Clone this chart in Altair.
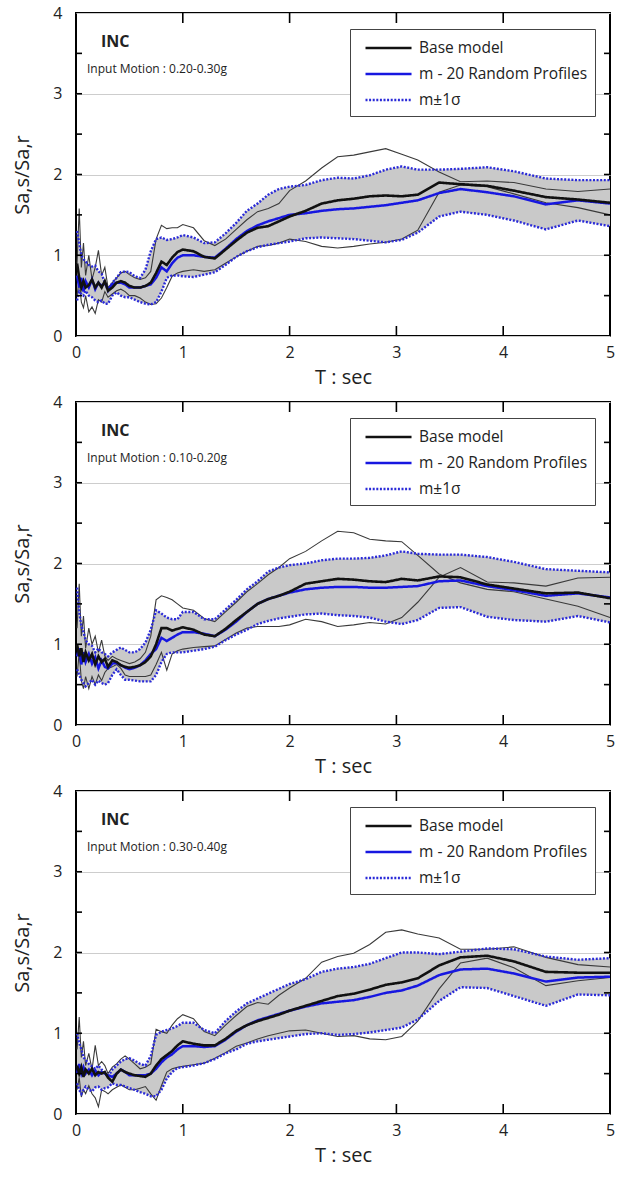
import altair as alt
import pandas as pd

# ---------------- data ----------------
T = [0.01, 0.03, 0.05, 0.07, 0.09, 0.12, 0.15, 0.18, 0.21, 0.24, 0.27, 0.30, 0.34, 0.38, 0.42, 0.46, 0.50,
     0.55, 0.60, 0.65, 0.70, 0.75, 0.80, 0.85, 0.90, 0.95, 1.00, 1.10, 1.20, 1.30, 1.40, 1.50, 1.60, 1.70,
     1.80, 1.90, 2.00,
     2.15, 2.30, 2.45, 2.60, 2.75, 2.90, 3.05, 3.20, 3.40, 3.60, 3.85, 4.10, 4.40, 4.70, 5.00]

# Panel 1 (0.20-0.30g)
P1_BASE = [0.90, 0.72, 0.60, 0.68, 0.60, 0.63, 0.70, 0.60, 0.66, 0.60, 0.68, 0.56, 0.60, 0.66, 0.68, 0.66, 0.62,
           0.60, 0.60, 0.62, 0.66, 0.78, 0.92, 0.88, 0.97, 1.04, 1.07, 1.05, 0.98, 0.96, 1.07, 1.18, 1.28, 1.34,
           1.36, 1.42, 1.48,
           1.55, 1.64, 1.68, 1.70, 1.73, 1.74, 1.73, 1.75, 1.90, 1.88, 1.86, 1.80, 1.72, 1.69, 1.65]
P1_MEAN = [0.75, 0.60, 0.72, 0.55, 0.68, 0.60, 0.70, 0.58, 0.66, 0.62, 0.66, 0.58, 0.64, 0.66, 0.66, 0.64, 0.60,
           0.60, 0.60, 0.62, 0.64, 0.72, 0.85, 0.80, 0.90, 0.97, 1.00, 1.00, 0.98, 0.97, 1.08, 1.20, 1.30, 1.37,
           1.42, 1.46, 1.50,
           1.52, 1.55, 1.57, 1.58, 1.60, 1.62, 1.65, 1.68, 1.77, 1.82, 1.78, 1.73, 1.63, 1.68, 1.64]
P1_UP = [1.30, 1.15, 1.00, 0.95, 0.92, 0.88, 0.86, 0.87, 0.80, 0.77, 0.66, 0.56, 0.66, 0.72, 0.79, 0.80, 0.79,
         0.74, 0.72, 0.82, 1.05, 1.20, 1.22, 1.19, 1.20, 1.22, 1.25, 1.22, 1.15, 1.16, 1.27, 1.40, 1.55, 1.64,
         1.75, 1.82, 1.85,
         1.87, 1.93, 1.96, 1.95, 1.99, 2.06, 2.10, 2.06, 2.06, 2.07, 2.09, 2.04, 1.95, 1.93, 1.93]
P1_LO = [0.44, 0.55, 0.52, 0.50, 0.56, 0.50, 0.48, 0.44, 0.42, 0.44, 0.40, 0.40, 0.50, 0.54, 0.50, 0.48, 0.48,
         0.45, 0.42, 0.40, 0.39, 0.42, 0.55, 0.72, 0.75, 0.75, 0.74, 0.73, 0.76, 0.79, 0.88, 0.98, 1.05, 1.10,
         1.13, 1.15, 1.17,
         1.21, 1.22, 1.21, 1.20, 1.18, 1.16, 1.19, 1.28, 1.48, 1.54, 1.50, 1.43, 1.32, 1.43, 1.36]
P1_A = [0.90, 1.58, 0.85, 1.15, 0.75, 1.00, 0.70, 0.85, 1.06, 0.75, 0.85, 0.60, 0.66, 0.72, 0.78, 0.80, 0.76,
        0.72, 0.70, 0.72, 0.80, 1.20, 1.37, 1.33, 1.34, 1.34, 1.38, 1.34, 1.18, 1.12, 1.20, 1.32, 1.44, 1.54,
        1.58, 1.64, 1.80,
        1.92, 2.08, 2.22, 2.24, 2.28, 2.32, 2.25, 2.18, 2.03, 1.91, 1.92, 1.90, 1.82, 1.79, 1.82]
P1_B = [0.50, 0.70, 0.42, 0.35, 0.50, 0.30, 0.36, 0.28, 0.45, 0.42, 0.55, 0.48, 0.52, 0.56, 0.58, 0.55, 0.50,
        0.50, 0.47, 0.42, 0.39, 0.40, 0.47, 0.60, 0.74, 0.78, 0.80, 0.82, 0.80, 0.82, 0.90, 0.98, 1.05, 1.11,
        1.12, 1.15, 1.20,
        1.17, 1.11, 1.09, 1.11, 1.14, 1.16, 1.20, 1.31, 1.78, 1.87, 1.85, 1.76, 1.65, 1.59, 1.50]

# Panel 2 (0.10-0.20g)
P2_BASE = [1.00, 0.85, 0.95, 0.78, 0.90, 0.80, 0.88, 0.75, 0.85, 0.78, 0.82, 0.72, 0.80, 0.78, 0.74, 0.72, 0.71,
           0.72, 0.74, 0.78, 0.85, 1.00, 1.20, 1.20, 1.17, 1.19, 1.21, 1.18, 1.12, 1.10, 1.19, 1.30, 1.40, 1.50,
           1.56, 1.60, 1.65,
           1.75, 1.78, 1.81, 1.80, 1.78, 1.77, 1.81, 1.79, 1.84, 1.83, 1.74, 1.69, 1.63, 1.64, 1.57]
P2_MEAN = [0.85, 0.95, 0.75, 0.90, 0.78, 0.88, 0.76, 0.84, 0.70, 0.80, 0.72, 0.70, 0.76, 0.77, 0.74, 0.71, 0.69,
           0.71, 0.74, 0.80, 0.88, 0.94, 1.08, 1.04, 1.08, 1.12, 1.15, 1.15, 1.13, 1.10, 1.18, 1.28, 1.40, 1.50,
           1.56, 1.60, 1.64,
           1.68, 1.70, 1.71, 1.71, 1.70, 1.70, 1.71, 1.72, 1.78, 1.79, 1.72, 1.67, 1.60, 1.63, 1.58]
P2_UP = [1.70, 1.40, 1.23, 1.15, 1.05, 1.00, 0.98, 0.90, 0.95, 0.90, 0.88, 0.85, 0.90, 0.93, 0.96, 0.93, 0.90,
         0.90, 0.94, 1.02, 1.18, 1.42, 1.38, 1.33, 1.31, 1.31, 1.40, 1.40, 1.31, 1.31, 1.43, 1.55, 1.68, 1.78,
         1.90, 1.95, 1.98,
         2.00, 2.04, 2.06, 2.06, 2.07, 2.10, 2.15, 2.12, 2.11, 2.11, 2.08, 2.02, 1.93, 1.91, 1.89]
P2_LO = [0.69, 0.62, 0.56, 0.52, 0.48, 0.52, 0.56, 0.50, 0.55, 0.52, 0.50, 0.52, 0.62, 0.69, 0.62, 0.56, 0.56,
         0.55, 0.54, 0.54, 0.54, 0.62, 0.78, 0.88, 0.90, 0.90, 0.90, 0.92, 0.94, 0.97, 1.05, 1.12, 1.18, 1.25,
         1.29, 1.32, 1.34,
         1.37, 1.38, 1.36, 1.35, 1.33, 1.28, 1.25, 1.30, 1.45, 1.46, 1.34, 1.30, 1.28, 1.35, 1.27]
P2_A = [1.20, 1.75, 1.10, 1.35, 0.95, 1.20, 1.00, 1.10, 0.90, 1.05, 0.85, 0.80, 0.85, 0.82, 0.80, 0.78, 0.76,
        0.78, 0.82, 0.90, 1.10, 1.55, 1.60, 1.58, 1.55, 1.50, 1.45, 1.42, 1.32, 1.28, 1.40, 1.52, 1.65, 1.75,
        1.86, 1.95, 2.06,
        2.15, 2.28, 2.40, 2.38, 2.30, 2.28, 2.27, 2.10, 1.87, 1.76, 1.68, 1.65, 1.56, 1.47, 1.33]
P2_B = [0.60, 0.90, 0.55, 0.45, 0.60, 0.45, 0.60, 0.50, 0.62, 0.55, 0.65, 0.70, 0.72, 0.75, 0.70, 0.62, 0.60,
        0.60, 0.60, 0.60, 0.62, 0.75, 0.90, 0.68, 0.88, 0.92, 0.94, 0.96, 0.97, 0.98, 1.06, 1.14, 1.20, 1.22,
        1.22, 1.22, 1.24,
        1.31, 1.28, 1.22, 1.24, 1.27, 1.25, 1.33, 1.52, 1.83, 1.95, 1.77, 1.76, 1.72, 1.82, 1.83]

# Panel 3 (0.30-0.40g)
P3_BASE = [0.60, 0.50, 0.58, 0.46, 0.55, 0.50, 0.56, 0.48, 0.52, 0.50, 0.52, 0.45, 0.40, 0.50, 0.55, 0.52, 0.50,
           0.48, 0.47, 0.46, 0.50, 0.60, 0.68, 0.73, 0.78, 0.85, 0.90, 0.87, 0.85, 0.85, 0.93, 1.03, 1.10, 1.15,
           1.19, 1.23, 1.28,
           1.34, 1.40, 1.46, 1.49, 1.54, 1.60, 1.63, 1.68, 1.84, 1.94, 1.96, 1.89, 1.76, 1.75, 1.75]
P3_MEAN = [0.50, 0.62, 0.50, 0.58, 0.50, 0.55, 0.48, 0.54, 0.48, 0.52, 0.50, 0.48, 0.46, 0.50, 0.55, 0.52, 0.48,
           0.48, 0.48, 0.48, 0.50, 0.56, 0.64, 0.70, 0.74, 0.80, 0.84, 0.84, 0.83, 0.84, 0.92, 1.02, 1.10, 1.16,
           1.20, 1.24, 1.28,
           1.33, 1.37, 1.39, 1.41, 1.45, 1.50, 1.53, 1.59, 1.72, 1.79, 1.80, 1.74, 1.64, 1.69, 1.70]
P3_UP = [1.00, 0.88, 0.80, 0.70, 0.67, 0.62, 0.59, 0.56, 0.60, 0.55, 0.50, 0.46, 0.55, 0.60, 0.65, 0.68, 0.69,
         0.66, 0.62, 0.60, 0.72, 0.98, 1.02, 1.04, 1.06, 1.09, 1.13, 1.13, 1.04, 1.00, 1.15, 1.27, 1.37, 1.43,
         1.49, 1.55, 1.61,
         1.67, 1.76, 1.80, 1.82, 1.86, 1.93, 2.00, 2.00, 1.98, 2.01, 2.05, 2.04, 1.95, 1.91, 1.93]
P3_LO = [0.38, 0.30, 0.25, 0.30, 0.34, 0.30, 0.28, 0.33, 0.34, 0.30, 0.32, 0.33, 0.38, 0.36, 0.36, 0.34, 0.32,
         0.30, 0.27, 0.25, 0.22, 0.22, 0.30, 0.44, 0.52, 0.57, 0.58, 0.60, 0.63, 0.68, 0.75, 0.80, 0.87, 0.90,
         0.92, 0.94, 0.96,
         0.99, 1.00, 0.98, 0.99, 1.01, 1.04, 1.07, 1.17, 1.40, 1.57, 1.56, 1.46, 1.34, 1.48, 1.47]
P3_A = [0.80, 1.20, 0.70, 0.90, 0.60, 0.75, 0.55, 0.85, 0.60, 0.65, 0.60, 0.50, 0.58, 0.62, 0.68, 0.72, 0.68,
        0.62, 0.56, 0.58, 0.62, 1.05, 1.02, 1.00, 1.10, 1.18, 1.23, 1.18, 1.02, 0.97, 1.10, 1.22, 1.33, 1.38,
        1.36, 1.47, 1.56,
        1.68, 1.88, 1.95, 1.99, 2.10, 2.25, 2.28, 2.23, 2.18, 2.04, 2.04, 2.07, 1.94, 1.85, 1.82]
P3_B = [0.30, 0.45, 0.21, 0.30, 0.25, 0.35, 0.25, 0.20, 0.09, 0.30, 0.28, 0.25, 0.30, 0.33, 0.36, 0.33, 0.30,
        0.30, 0.32, 0.34, 0.25, 0.17, 0.35, 0.52, 0.56, 0.58, 0.59, 0.61, 0.63, 0.69, 0.76, 0.84, 0.88, 0.93,
        0.97, 1.00, 1.03,
        1.04, 1.00, 0.96, 0.97, 0.93, 0.92, 0.96, 1.15, 1.55, 1.87, 1.93, 1.81, 1.59, 1.65, 1.69]

LABEL = "INC"
SUBTITLES = ["Input Motion : 0.20-0.30g", "Input Motion : 0.10-0.20g", "Input Motion : 0.30-0.40g"]
SERIES = ["Base model", "m - 20 Random Profiles", "m\u00b11\u03c3"]
X_LABELS = [0, 1, 2, 3, 4, 5]
Y_LABELS = [0, 1, 2, 3, 4]
X_TICKS = [1, 2, 3, 4]
Y_TICKS = [0.5, 1, 1.5, 2, 2.5, 3, 3.5]

# ---------------- style ----------------
W, H = 534, 323
FONT = "Open Sans"
BLUE = "#1717e0"
DOT_BLUE = "#2a2ad8"


def panel(base, mean, up, lo, a, b, subtitle):
    wide = pd.DataFrame({"T": T, "base": base, "mean": mean, "up": up, "lo": lo, "a": a, "b": b})
    rows = []
    for key, ser in [("up", SERIES[2]), ("lo", SERIES[2]), ("mean", SERIES[1]), ("base", SERIES[0])]:
        for t, v in zip(wide["T"], wide[key]):
            rows.append({"T": t, "val": v, "series": ser, "part": key})
    long = pd.DataFrame(rows)

    xscale = alt.Scale(domain=[0, 5], nice=False, zero=False)
    yscale = alt.Scale(domain=[0, 4], nice=False)
    xaxis = alt.Axis(values=X_LABELS, title="T : sec", grid=False, ticks=False, domain=False,
                     labelFlush=False, labelPadding=8, titleY=41, titleBaseline="middle", format="d")
    yaxis = alt.Axis(values=Y_LABELS, title="Sa,s/Sa,r", grid=True, gridColor="#cdcdcd", gridWidth=1.2,
                     ticks=False, domain=False, labelFlush=False, labelPadding=14,
                     titleX=-54, titleY=H / 2, titleBaseline="middle", format="d")

    band = alt.Chart(wide).mark_area(color="#c9c9c9", opacity=1).encode(
        x=alt.X("T:Q", scale=xscale, axis=xaxis),
        y=alt.Y("lo:Q", scale=yscale, axis=yaxis),
        y2="up:Q",
    )

    thin = alt.Chart(wide).transform_fold(["a", "b"], as_=["prof", "v"]).mark_line(
        color="#3a3a3a", strokeWidth=1.1
    ).encode(x=alt.X("T:Q", title="T : sec"), y=alt.Y("v:Q", title="Sa,s/Sa,r"), detail="prof:N")

    leg = alt.Legend(title=None, orient="none", legendX=274, legendY=16, direction="vertical",
                     symbolType="M-0.333,0H4.05", symbolSize=441, labelFontSize=15.5, labelFont=FONT,
                     labelColor="#222", labelLimit=400, labelOffset=38, padding=7, rowPadding=5,
                     strokeColor="#444", fillColor="white", cornerRadius=0)

    lines = alt.Chart(long).mark_line().encode(
        x=alt.X("T:Q", title="T : sec"),
        y=alt.Y("val:Q", title="Sa,s/Sa,r"),
        color=alt.Color("series:N", scale=alt.Scale(domain=SERIES, range=["#111111", BLUE, DOT_BLUE]),
                        legend=leg),
        strokeDash=alt.StrokeDash("series:N",
                                  scale=alt.Scale(domain=SERIES, range=[[1, 0], [1, 0], [2, 1.6]]),
                                  legend=leg),
        strokeWidth=alt.StrokeWidth("series:N", scale=alt.Scale(domain=SERIES, range=[2.6, 2.4, 2.0]),
                                    legend=leg),
        detail="part:N",
        order=alt.Order("ord:Q"),
    ).transform_calculate(ord="datum.part == 'base' ? 3 : (datum.part == 'mean' ? 2 : 1)")

    xt = pd.DataFrame({"T": X_TICKS})
    yt = pd.DataFrame({"v": Y_TICKS})
    tick_b = alt.Chart(xt).mark_rule(color="black", strokeWidth=1.6).encode(
        x="T:Q", y=alt.value(H), y2=alt.value(H - 10))
    tick_t = alt.Chart(xt).mark_rule(color="black", strokeWidth=1.6).encode(
        x="T:Q", y=alt.value(0), y2=alt.value(10))
    tick_l = alt.Chart(yt).mark_rule(color="black", strokeWidth=1.6).encode(
        y="v:Q", x=alt.value(0), x2=alt.value(6))
    tick_r = alt.Chart(yt).mark_rule(color="black", strokeWidth=1.6).encode(
        y="v:Q", x=alt.value(W), x2=alt.value(W - 6))

    inc = alt.Chart(pd.DataFrame({"t": [LABEL]})).mark_text(
        align="left", baseline="middle", fontSize=16, fontWeight="bold", font=FONT, color="#222"
    ).encode(text="t:N", x=alt.value(25), y=alt.value(29))
    sub = alt.Chart(pd.DataFrame({"t": [subtitle]})).mark_text(
        align="left", baseline="middle", fontSize=12, font=FONT, color="#222"
    ).encode(text="t:N", x=alt.value(11), y=alt.value(56))

    return alt.layer(band, thin, lines, tick_b, tick_t, tick_l, tick_r, inc, sub).properties(width=W, height=H)


p1 = panel(P1_BASE, P1_MEAN, P1_UP, P1_LO, P1_A, P1_B, SUBTITLES[0])
p2 = panel(P2_BASE, P2_MEAN, P2_UP, P2_LO, P2_A, P2_B, SUBTITLES[1])
p3 = panel(P3_BASE, P3_MEAN, P3_UP, P3_LO, P3_A, P3_B, SUBTITLES[2])

chart = alt.vconcat(p1, p2, p3, spacing=66, bounds="flush").resolve_scale(
    color="independent", strokeDash="independent", strokeWidth="independent"
).resolve_legend(
    color="independent", strokeDash="independent", strokeWidth="independent"
).properties(
    padding={"left": 11, "top": 4, "right": 0, "bottom": 0}
).configure(font=FONT).configure_view(
    stroke="black", strokeWidth=2
).configure_axis(
    labelFont=FONT, labelFontSize=16, labelColor="#222", titleFont=FONT, titleFontSize=20,
    titleFontWeight="normal", titleColor="#222"
)

chart.save("out.html", embed_options={"renderer": "svg", "actions": False})
